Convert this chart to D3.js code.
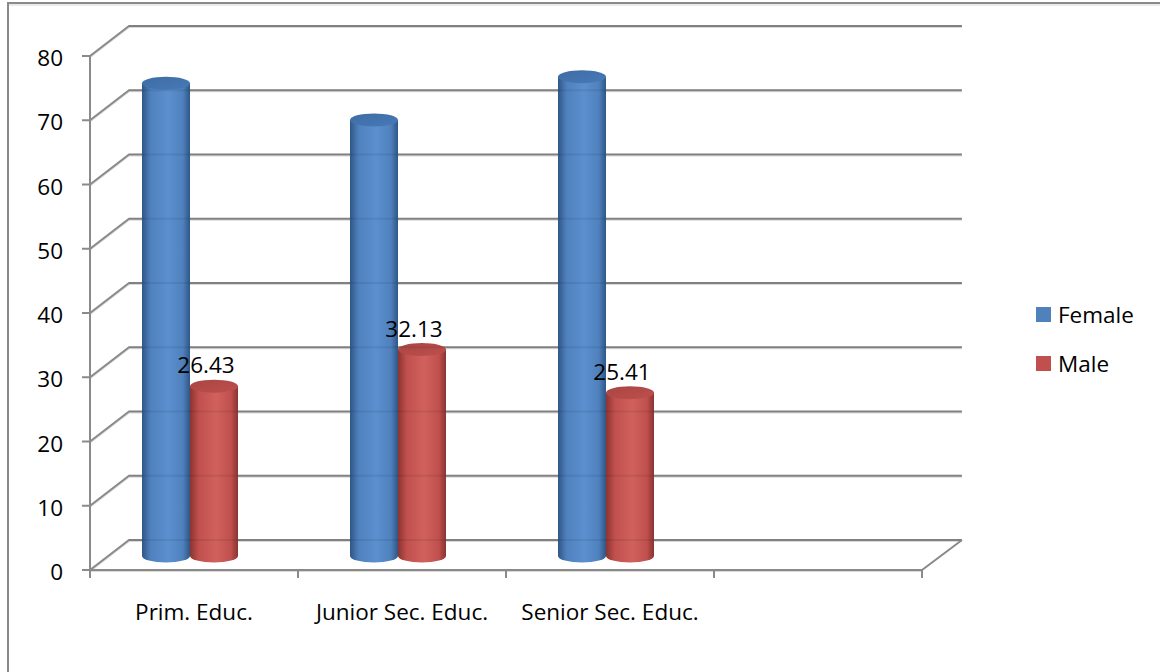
<!DOCTYPE html>
<html>
<head>
<meta charset="utf-8">
<script src="https://cdn.jsdelivr.net/npm/d3@7"></script>
<style>
  html, body { margin: 0; padding: 0; background: #fff; }
  svg { display: block; }
  text { font-family: "Open Sans", Lato, sans-serif; fill: #000; }
</style>
</head>
<body>
<svg id="chart" width="1160" height="672"></svg>
<script>
// Education level shares by sex (percent)
const categories = ["Prim. Educ.", "Junior Sec. Educ.", "Senior Sec. Educ.", ""];
const seriesNames = ["Female", "Male"];
const femaleValues = [73.57, 67.87, 74.59, null];
const maleValues = [26.43, 32.13, 25.41, null];
const yTicks = [0, 10, 20, 30, 40, 50, 60, 70, 80];
const seriesColors = {
  Female: { base: "#4f81bd", dark: "#2f5687", light: "#5b8fce", top: "#3f6ca3" },
  Male:   { base: "#c0504d", dark: "#8c3431", light: "#d0615d", top: "#a84643" }
};

const svg = d3.select("#chart");
const W = 1160, H = 672;
const fontSize = 22.5;

// Oblique 3D frame: front plane, back wall offset
const depthX = 39, depthY = -30;
const yFront = d3.scaleLinear().domain([0, 80]).range([570, 56]);
const yBars = d3.scaleLinear().domain([0, 80]).range([556, 42]);  // mid-depth plane
const xFront = d3.scaleBand().domain(categories).range([90, 922]).padding(0);
const xSeries = d3.scaleBand().domain(seriesNames).range([52, 148]).padding(0);

// Outer chart border
svg.append("rect")
  .attr("x", 8).attr("y", 3).attr("width", W + 20).attr("height", H + 20)
  .attr("fill", "none").attr("stroke", "#8a8a8a").attr("stroke-width", 2);
svg.append("line").attr("x1", 9).attr("x2", W).attr("y1", 5).attr("y2", 5)
  .attr("stroke", "#d6d6d6").attr("stroke-width", 1);

const lineColor = "#8a8a8a";
const shadowColor = "#d9d9d9";

// Gridlines: front tick -> diagonal to back wall -> horizontal across back wall
const grid = svg.append("g");
yTicks.forEach(v => {
  const yf = yFront(v), yb = yf + depthY;
  const xb0 = 90 + depthX, xb1 = 922 + depthX + 1;
  grid.append("path")
    .attr("d", `M${90},${yf + 1.5}L${xb0},${yb + 1.5}L${xb1},${yb + 1.5}`)
    .attr("fill", "none").attr("stroke", shadowColor).attr("stroke-width", 1.2);
  grid.append("path")
    .attr("d", `M${90},${yf}L${xb0},${yb}L${xb1},${yb}`)
    .attr("fill", "none").attr("stroke", lineColor).attr("stroke-width", 2);
});

// Floor front edge and right diagonal
const floor = svg.append("g");
floor.append("path")
  .attr("d", `M90,${yFront(0) + 1.5}L922,${yFront(0) + 1.5}`)
  .attr("stroke", shadowColor).attr("stroke-width", 1.2).attr("fill", "none");
floor.append("path")
  .attr("d", `M90,${yFront(0)}L922,${yFront(0)}L${922 + depthX + 1},${yFront(0) + depthY}`)
  .attr("stroke", lineColor).attr("stroke-width", 2).attr("fill", "none");

// Value axis (front left edge) with ticks and labels
const yAxisG = svg.append("g");
yAxisG.append("line")
  .attr("x1", 90).attr("x2", 90).attr("y1", yFront(80)).attr("y2", yFront(0) + 8)
  .attr("stroke", lineColor).attr("stroke-width", 2);
yTicks.forEach(v => {
  yAxisG.append("line")
    .attr("x1", 82).attr("x2", 90).attr("y1", yFront(v)).attr("y2", yFront(v))
    .attr("stroke", lineColor).attr("stroke-width", 2);
  yAxisG.append("text")
    .attr("x", 63).attr("y", yFront(v) + 10)
    .attr("text-anchor", "end")
    .attr("font-size", fontSize)
    .text(v);
});

// Category axis ticks and labels
const xAxisG = svg.append("g");
const tickXs = categories.map(c => xFront(c)).concat([xFront.range()[1]]);
tickXs.forEach(x => {
  xAxisG.append("line")
    .attr("x1", x).attr("x2", x).attr("y1", yFront(0)).attr("y2", yFront(0) + 8)
    .attr("stroke", lineColor).attr("stroke-width", 2);
});
categories.forEach(c => {
  xAxisG.append("text")
    .attr("x", xFront(c) + xFront.bandwidth() / 2)
    .attr("y", 620)
    .attr("text-anchor", "middle")
    .attr("font-size", fontSize)
    .text(c);
});

// Cylinder gradients
const defs = svg.append("defs");
seriesNames.forEach(s => {
  const c = seriesColors[s];
  const g = defs.append("linearGradient").attr("id", "grad-" + s)
    .attr("x1", "0%").attr("x2", "100%").attr("y1", "0%").attr("y2", "0%");
  g.append("stop").attr("offset", "0%").attr("stop-color", c.dark);
  g.append("stop").attr("offset", "18%").attr("stop-color", c.base);
  g.append("stop").attr("offset", "55%").attr("stop-color", c.light);
  g.append("stop").attr("offset", "85%").attr("stop-color", c.base);
  g.append("stop").attr("offset", "100%").attr("stop-color", c.dark);
  const t = defs.append("linearGradient").attr("id", "top-" + s)
    .attr("x1", "0%").attr("x2", "100%").attr("y1", "0%").attr("y2", "100%");
  t.append("stop").attr("offset", "0%").attr("stop-color", c.top);
  t.append("stop").attr("offset", "100%").attr("stop-color", d3.color(c.top).brighter(0.35));
});

// Cylinders
const rows = categories.map((c, i) => ({ cat: c, Female: femaleValues[i], Male: maleValues[i] }));
const ry = 6.5;
const bars = svg.append("g");
rows.forEach(r => {
  seriesNames.forEach(s => {
    const v = r[s];
    if (v == null) return;
    const x0 = xFront(r.cat) + xSeries(s);
    const w = xSeries.bandwidth();
    const rx = w / 2;
    const x1 = x0 + w;
    const yT = yBars(v), yB = yBars(0);
    bars.append("path")
      .attr("d", `M${x0},${yT}L${x0},${yB}A${rx},${ry} 0 0 0 ${x1},${yB}L${x1},${yT}Z`)
      .attr("fill", `url(#grad-${s})`);
    bars.append("ellipse")
      .attr("cx", x0 + rx).attr("cy", yT).attr("rx", rx).attr("ry", ry)
      .attr("fill", `url(#top-${s})`);
  });
});

// Faint gridline ghosts seen through the translucent cylinders
yTicks.forEach(v => {
  const yb = yFront(v) + depthY;
  svg.append("line")
    .attr("x1", 90 + depthX).attr("x2", 922 + depthX).attr("y1", yb).attr("y2", yb)
    .attr("stroke", "#000").attr("stroke-opacity", 0.07).attr("stroke-width", 2);
});

// Value labels for the Male series
rows.forEach(r => {
  const v = r.Male;
  if (v == null) return;
  const cx = xFront(r.cat) + xSeries("Male") + xSeries.bandwidth() / 2;
  svg.append("text")
    .attr("x", cx - 8).attr("y", yBars(v) - 13)
    .attr("text-anchor", "middle")
    .attr("font-size", fontSize)
    .text(v.toFixed(2));
});

// Legend
const legend = svg.append("g");
seriesNames.forEach((s, i) => {
  const y = 307 + i * 49;
  legend.append("rect")
    .attr("x", 1036).attr("y", y).attr("width", 15).attr("height", 15)
    .attr("fill", seriesColors[s].base);
  legend.append("text")
    .attr("x", 1058).attr("y", y + 16)
    .attr("font-size", fontSize)
    .text(s);
});
</script>
</body>
</html>
